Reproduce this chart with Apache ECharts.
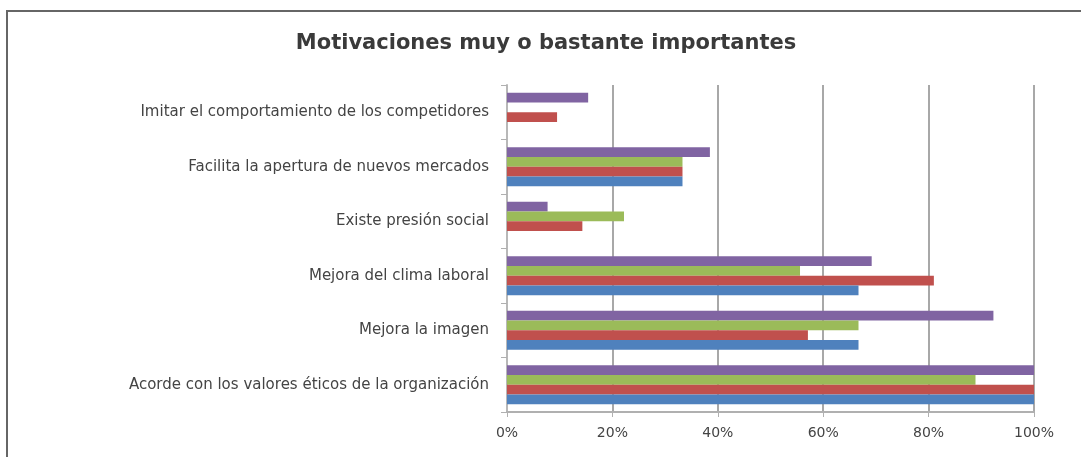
<!DOCTYPE html>
<html>
<head>
<meta charset="utf-8">
<script src="https://cdn.jsdelivr.net/npm/echarts@6/dist/echarts.min.js"></script>
<style>
html,body{margin:0;padding:0;background:#fff;}
#c{width:1081px;height:457px;}
</style>
</head>
<body>
<div id="c"></div>
<script>
const titleText = 'Motivaciones muy o bastante importantes';
const categories = [
  'Acorde con los valores éticos de la organización',
  'Mejora la imagen',
  'Mejora del clima laboral',
  'Existe presión social',
  'Facilita la apertura de nuevos mercados',
  'Imitar el comportamiento de los competidores'
];
const seriesBlue   = [100, 66.7, 66.7, 0, 33.3, 0];
const seriesRed    = [100, 57.1, 81.0, 14.3, 33.3, 9.5];
const seriesGreen  = [88.9, 66.7, 55.6, 22.2, 33.3, 0];
const seriesPurple = [100, 92.3, 69.2, 7.7, 38.5, 15.4];
const xTicks = [0, 20, 40, 60, 80, 100];

// drawn top-to-bottom inside each group: purple, green, red, blue
const seriesData = [seriesPurple, seriesGreen, seriesRed, seriesBlue];
const colors = ['#8064A2', '#9BBB59', '#C0504D', '#4F81BD'];
const seriesNames = ['Serie 4', 'Serie 3', 'Serie 2', 'Serie 1'];

const chart = echarts.init(document.getElementById('c'), null, {renderer: 'canvas'});
chart.setOption({
  backgroundColor: '#ffffff',
  animation: false,
  title: {
    text: titleText,
    left: 541, top: 28,
    textAlign: 'center',
    textStyle: {fontFamily: 'DejaVu Sans', fontSize: 21, fontWeight: 'bold', color: '#3a3a3a'}
  },
  graphic: [{
    type: 'polyline',
    shape: {points: [[7, 457], [7, 11], [1081, 11]]},
    style: {stroke: '#666666', lineWidth: 2, fill: null},
    silent: true
  }],
  grid: {left: 507, right: 47, top: 85, bottom: 45, containLabel: false},
  xAxis: {
    type: 'value',
    min: xTicks[0], max: xTicks[xTicks.length - 1], interval: 20,
    axisLine: {show: true, lineStyle: {color: '#b0b0b0', width: 2}},
    axisTick: {show: true, length: 5, lineStyle: {color: '#b0b0b0'}},
    axisLabel: {formatter: v => v + '%', fontFamily: 'DejaVu Sans', fontSize: 14, color: '#444', margin: 14},
    splitLine: {show: true, lineStyle: {color: '#a8a8a8', width: 2}}
  },
  yAxis: {
    type: 'category',
    data: categories,
    axisLine: {show: true, lineStyle: {color: '#b8b8b8', width: 2}},
    axisTick: {show: true, length: 6, lineStyle: {color: '#b0b0b0'}},
    axisLabel: {fontFamily: 'DejaVu Sans', fontSize: 15, color: '#444', margin: 18}
  },
  series: seriesData.map((d, i) => ({
    name: seriesNames[i],
    type: 'bar',
    data: d,
    barGap: '0%',
    barCategoryGap: '28%',
    itemStyle: {color: colors[i]}
  }))
});
</script>
</body>
</html>
